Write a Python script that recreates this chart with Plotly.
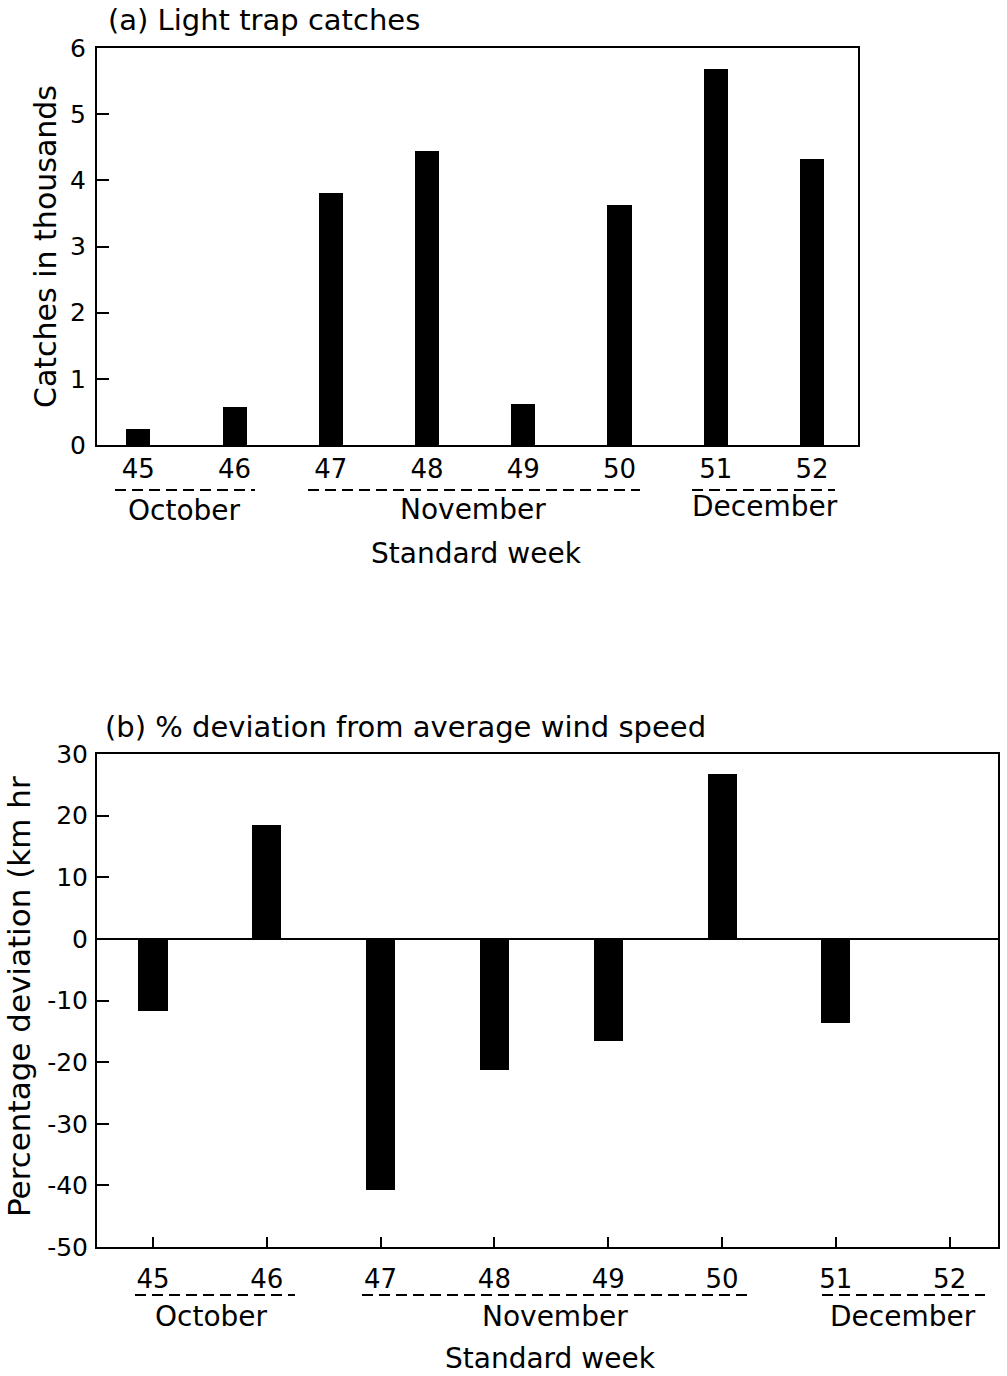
import plotly.graph_objects as go

W, H = 1007, 1376

weeks = [45, 46, 47, 48, 49, 50, 51, 52]
week_labels = ["45", "46", "47", "48", "49", "50", "51", "52"]
catches_thousands = [0.24, 0.58, 3.81, 4.44, 0.62, 3.63, 5.68, 4.33]
wind_deviation_pct = [-11.7, 18.4, -40.7, -21.2, -16.6, 26.7, -13.7, 0]
months = ["October", "November", "December"]
catch_ticks = [0, 1, 2, 3, 4, 5, 6]
catch_tick_labels = ["0", "1", "2", "3", "4", "5", "6"]
dev_ticks = [30, 20, 10, 0, -10, -20, -30, -40, -50]
dev_tick_labels = ["30", "20", "10", "0", "-10", "-20", "-30", "-40", "-50"]

FONT = "DejaVu Sans"


def fx(p):
    return p / W


def fy(p):
    return 1 - p / H


fig = go.Figure()
fig.add_trace(go.Bar(x=weeks, y=catches_thousands, width=0.25,
                     marker=dict(color="black", line=dict(width=0)),
                     xaxis="x", yaxis="y", showlegend=False))
fig.add_trace(go.Bar(x=weeks, y=wind_deviation_pct, width=0.255,
                     marker=dict(color="black", line=dict(width=0)),
                     xaxis="x2", yaxis="y2", showlegend=False))

base = dict(showline=True, linecolor="black", linewidth=2, mirror=True,
            showgrid=False, automargin=False)

fig.update_layout(
    width=W, height=H,
    margin=dict(l=0, r=0, t=0, b=0, pad=0),
    paper_bgcolor="white", plot_bgcolor="white",
    font=dict(family=FONT, color="black"),
    bargap=0,
    xaxis=dict(domain=[fx(97), fx(858)], anchor="y", range=[44.571, 52.478],
               tickvals=weeks, ticktext=week_labels, ticks="", zeroline=False,
               ticklabelstandoff=0,
               tickfont=dict(family=FONT, size=26, color="black"), **base),
    yaxis=dict(domain=[fy(445), fy(48)], anchor="x", range=[0, 6],
               tickvals=catch_ticks, ticktext=catch_tick_labels, zeroline=False,
               ticks="inside", ticklen=12, tickwidth=2, tickcolor="black",
               ticklabelstandoff=4,
               tickfont=dict(family=FONT, size=25, color="black"), **base),
    xaxis2=dict(domain=[fx(97), fx(998)], anchor="y2", range=[44.508, 52.425],
                tickvals=weeks, ticktext=week_labels, ticks="inside", ticklen=10,
                tickwidth=2, tickcolor="black", ticklabelstandoff=8, zeroline=False,
                tickfont=dict(family=FONT, size=26, color="black"), **base),
    yaxis2=dict(domain=[fy(1247), fy(754)], anchor="x2", range=[-50, 30],
                tickvals=dev_ticks, ticktext=dev_tick_labels,
                ticks="inside", ticklen=12, tickwidth=2, tickcolor="black",
                ticklabelstandoff=2,
                tickfont=dict(family=FONT, size=25, color="black"),
                zeroline=True, zerolinecolor="black", zerolinewidth=2, **base),
)

ann = []
ann.append(dict(text="(a) Light trap catches", x=fx(106), y=fy(20), xanchor="left",
                yanchor="middle", font=dict(size=29)))
ann.append(dict(text="(b) % deviation from average wind speed", x=fx(103), y=fy(727),
                xanchor="left", yanchor="middle", font=dict(size=29)))
ann.append(dict(text="Catches in thousands", x=fx(45), y=fy(247), textangle=-90,
                xanchor="center", yanchor="middle", font=dict(size=30)))
ann.append(dict(text="Percentage deviation (km hr", x=fx(19), y=fy(997), textangle=-90,
                xanchor="center", yanchor="middle", font=dict(size=31)))
top_month_x = [184, 473, 765]
top_month_y = [510, 509, 507]
bot_month_x = [211, 555, 903]
for m, px, py in zip(months, top_month_x, top_month_y):
    ann.append(dict(text=m, x=fx(px), y=fy(py), xanchor="center", yanchor="middle",
                    font=dict(size=28)))
for m, px in zip(months, bot_month_x):
    ann.append(dict(text=m, x=fx(px), y=fy(1316), xanchor="center", yanchor="middle",
                    font=dict(size=28)))
ann.append(dict(text="Standard week", x=fx(476), y=fy(553), xanchor="center",
                yanchor="middle", font=dict(size=28)))
ann.append(dict(text="Standard week", x=fx(550), y=fy(1358), xanchor="center",
                yanchor="middle", font=dict(size=28)))
for a in ann:
    a.update(xref="paper", yref="paper", showarrow=False)
    a["font"].update(family=FONT, color="black")
fig.update_layout(annotations=ann)

shapes = []
top_dash = [(115, 255), (308, 640), (692, 835)]
bot_dash = [(135, 295), (362, 748), (822, 985)]
for a, b in top_dash:
    shapes.append(dict(type="line", xref="paper", yref="paper", x0=fx(a), x1=fx(b),
                       y0=fy(490), y1=fy(490),
                       line=dict(color="black", width=2, dash="11px,6px")))
for a, b in bot_dash:
    shapes.append(dict(type="line", xref="paper", yref="paper", x0=fx(a), x1=fx(b),
                       y0=fy(1295), y1=fy(1295),
                       line=dict(color="black", width=2, dash="11px,6px")))
fig.update_layout(shapes=shapes)

fig.write_html("out.html")
